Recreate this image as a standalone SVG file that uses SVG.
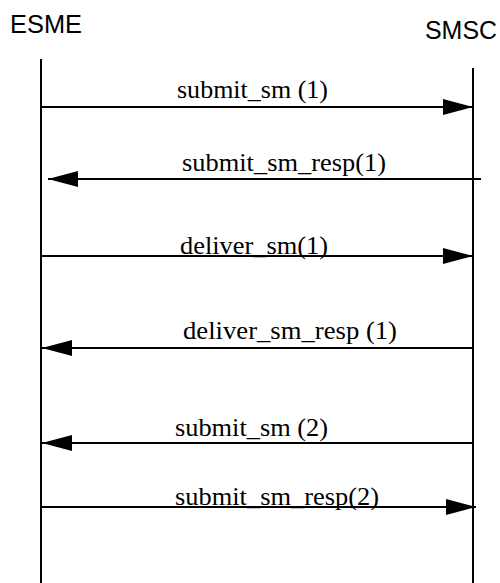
<svg xmlns="http://www.w3.org/2000/svg" width="500" height="583" viewBox="0 0 500 583">
<style>
.actor{font-family:"Liberation Sans",Arial,sans-serif;font-size:25px;fill:#000}
.lbl{font-family:"Liberation Serif","Times New Roman",serif;font-size:26px;fill:#000}
.life{stroke:#000;stroke-width:2;fill:none}
.msg{stroke:#000;stroke-width:2;fill:none;marker-end:url(#ah)}
</style>
<defs>
<marker id="ah" markerUnits="userSpaceOnUse" markerWidth="30" markerHeight="16" refX="30" refY="8" orient="auto" viewBox="0 0 30 16">
<path d="M0,0 L30,8 L0,16 z" fill="#000"/>
</marker>
</defs>
<rect width="500" height="583" fill="#fff"/>
<g id="esme">
<text class="actor" x="10" y="33" textLength="72" lengthAdjust="spacingAndGlyphs">ESME</text>
<line class="life" x1="41" y1="59" x2="41" y2="583"/>
</g>
<g id="smsc">
<text class="actor" x="425" y="39" textLength="72" lengthAdjust="spacingAndGlyphs">SMSC</text>
<line class="life" x1="473" y1="68" x2="473" y2="583"/>
</g>
<g id="connectors">
<line class="msg" x1="41" y1="107" x2="473" y2="107"/>
<text class="lbl" x="177" y="98" textLength="151" lengthAdjust="spacingAndGlyphs">submit_sm (1)</text>
<line class="msg" x1="481" y1="179" x2="48" y2="179"/>
<text class="lbl" x="182" y="171" textLength="204" lengthAdjust="spacingAndGlyphs">submit_sm_resp(1)</text>
<line class="msg" x1="41" y1="256" x2="473" y2="256"/>
<text class="lbl" x="180" y="254" textLength="148" lengthAdjust="spacingAndGlyphs">deliver_sm(1)</text>
<line class="msg" x1="473" y1="348" x2="42" y2="348"/>
<text class="lbl" x="183" y="339" textLength="214" lengthAdjust="spacingAndGlyphs">deliver_sm_resp (1)</text>
<line class="msg" x1="473" y1="443" x2="42" y2="443"/>
<text class="lbl" x="175" y="436" textLength="153" lengthAdjust="spacingAndGlyphs">submit_sm (2)</text>
<line class="msg" x1="41" y1="507" x2="476" y2="507"/>
<text class="lbl" x="175" y="505" textLength="204" lengthAdjust="spacingAndGlyphs">submit_sm_resp(2)</text>
</g>
</svg>
